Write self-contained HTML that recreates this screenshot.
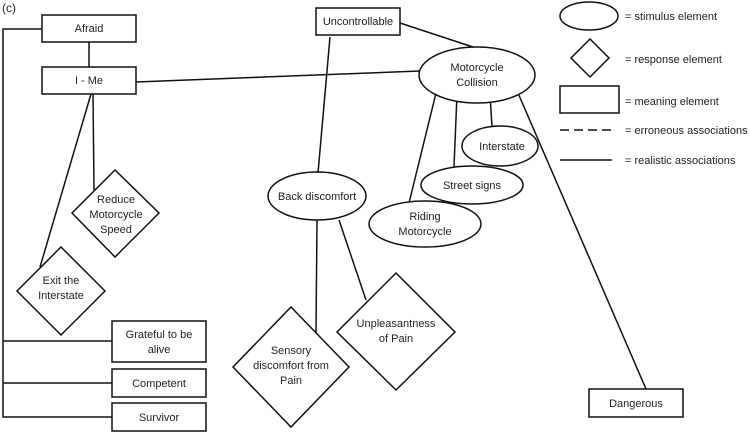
<!DOCTYPE html>
<html><head><style>
html,body{margin:0;padding:0;background:#fff;width:750px;height:434px;overflow:hidden}
svg text{font-family:"Liberation Sans",sans-serif;font-size:11px;fill:#222;text-anchor:middle}
.l{text-anchor:start}
</style></head><body>
<svg width="750" height="434" viewBox="0 0 750 434" xmlns="http://www.w3.org/2000/svg">
<g stroke="#111" stroke-width="1.5" fill="none">
<!-- left bus -->
<polyline points="42,29 3,29 3,417 112,417"/>
<line x1="3" y1="341" x2="112" y2="341"/>
<line x1="3" y1="383" x2="112" y2="383"/>
<line x1="89" y1="42" x2="89" y2="67"/>
<line x1="136" y1="82" x2="420" y2="71"/>
<line x1="91" y1="94" x2="40" y2="267"/>
<line x1="93" y1="94" x2="94" y2="190"/>
<line x1="400" y1="23" x2="476" y2="48"/>
<line x1="330" y1="37" x2="318" y2="173"/>
<line x1="437" y1="89" x2="409" y2="203"/>
<line x1="457" y1="94" x2="454" y2="167"/>
<line x1="490" y1="94" x2="492" y2="127"/>
<line x1="518" y1="93" x2="646" y2="389"/>
<line x1="317" y1="220" x2="316" y2="333"/>
<line x1="339" y1="220" x2="366" y2="300"/>
<!-- boxes -->
<g fill="#fff">
<rect x="42" y="15" width="94" height="27"/>
<rect x="42" y="67" width="94" height="27"/>
<rect x="316" y="8" width="84" height="27"/>
<rect x="112" y="321" width="94" height="41"/>
<rect x="112" y="369" width="94" height="28"/>
<rect x="112" y="403" width="94" height="28"/>
<rect x="589" y="389" width="94" height="28"/>
<ellipse cx="477" cy="75" rx="58" ry="28"/>
<ellipse cx="317" cy="196" rx="49" ry="24"/>
<ellipse cx="500" cy="146" rx="38" ry="20"/>
<ellipse cx="472" cy="185" rx="51" ry="19"/>
<ellipse cx="425" cy="224" rx="56" ry="23"/>
<polygon points="115,170 159,213 115,257 72,213"/>
<polygon points="61,247 105,291 61,335 17,291"/>
<polygon points="291,307 349,367 291,427 233,367"/>
<polygon points="396,273 455,332 396,390 337,332"/>
<!-- legend -->
<ellipse cx="589" cy="16" rx="29" ry="14"/>
<polygon points="590,39 609,58 590,77 571,58"/>
<rect x="560" y="86" width="59" height="27"/>
</g>
<line x1="560" y1="130" x2="612" y2="130" stroke-dasharray="9,5"/>
<line x1="560" y1="160" x2="612" y2="160"/>
</g>
<text x="2" y="12" class="l" style="font-size:12px">(c)</text>
<text x="89" y="32">Afraid</text>
<text x="89" y="84">I - Me</text>
<text x="358" y="25">Uncontrollable</text>
<text x="159" y="338">Grateful to be</text>
<text x="159" y="353">alive</text>
<text x="159" y="387">Competent</text>
<text x="159" y="421">Survivor</text>
<text x="636" y="407">Dangerous</text>
<text x="477" y="71">Motorcycle</text>
<text x="477" y="86">Collision</text>
<text x="317" y="200">Back discomfort</text>
<text x="502" y="150">Interstate</text>
<text x="472" y="189">Street signs</text>
<text x="425" y="220">Riding</text>
<text x="425" y="235">Motorcycle</text>
<text x="116" y="203">Reduce</text>
<text x="116" y="218">Motorcycle</text>
<text x="116" y="233">Speed</text>
<text x="61" y="284">Exit the</text>
<text x="61" y="299">Interstate</text>
<text x="291" y="354">Sensory</text>
<text x="291" y="369">discomfort from</text>
<text x="291" y="384">Pain</text>
<text x="396" y="327">Unpleasantness</text>
<text x="396" y="342">of Pain</text>
<text x="625" y="20" class="l">= stimulus element</text>
<text x="625" y="63" class="l">= response element</text>
<text x="625" y="105" class="l">= meaning element</text>
<text x="625" y="134" class="l">= erroneous associations</text>
<text x="625" y="164" class="l">= realistic associations</text>
</svg>
</body></html>
